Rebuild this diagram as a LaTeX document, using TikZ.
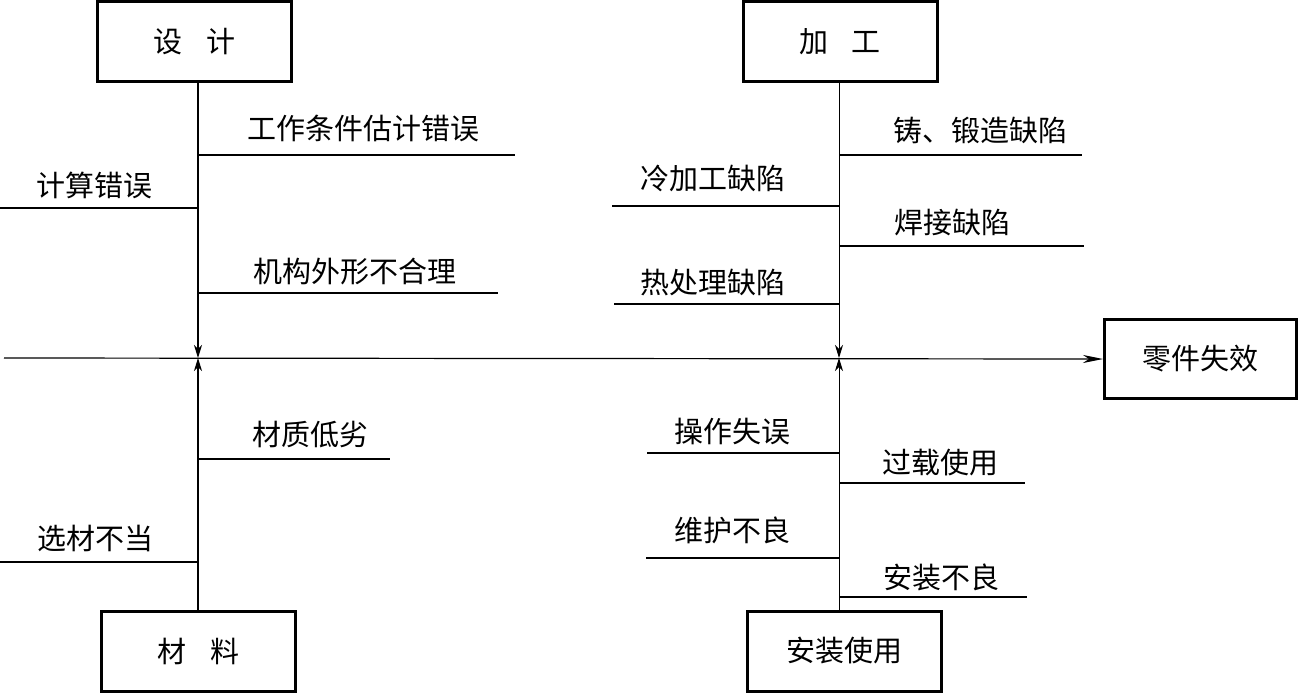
\documentclass[tikz,border=0pt]{standalone}
\usepackage{fontspec}
\newfontfamily\cjk{Noto Sans CJK SC}
\usetikzlibrary{arrows.meta, positioning}

\begin{document}
\begin{tikzpicture}[x=1pt,y=-1pt,>={Stealth[length=13pt,width=8pt,inset=4pt]},
  font=\cjk\fontsize{29}{32}\selectfont,
  box/.style={draw,line width=3pt,minimum width=194pt,minimum height=80pt,inner sep=0pt},
  spine/.style={line width=1.6pt},
  thin spine/.style={line width=1pt},
  branch/.style={line width=1.5pt},
  cause/.style={inner sep=0pt}]
\useasboundingbox (0,0) rectangle (1300,694);

% define the boxes
  \node[box]  (design)  at (194.5,41.5) {设\hspace{0.8em}计};
  \node[box]  (machining)  at (840,41.5) {加\hspace{0.8em}工};
  \node[box]  (material)  at (198.5,651) {材\hspace{0.8em}料};
  \node[box]  (usage)  at (844.5,651) {安装使用};
  \node[box, minimum width=192pt, minimum height=79pt]  (failure)  at (1200.5,359) {零件失效};

% define the junctions on the main line
  \coordinate (start) at (4,358);
  \coordinate (dj) at (198,358);
  \coordinate (mj) at (839,358);

% main line and spines
  \draw[line width=1.2pt,-{Stealth[length=20pt,width=8pt,inset=6pt]}] (start) -- (failure.west);
  \draw[spine,->] (dj |- design.south) -- (dj);
  \draw[spine,->] (dj |- material.north) -- (dj);
  \draw[thin spine,->] (mj |- machining.south) -- (mj);
  \draw[thin spine,->] (mj |- usage.north) -- (mj);

% design causes
  \coordinate (d1) at (515,155);
  \coordinate (d2) at (0,208);
  \coordinate (d3) at (498,293);
  \draw[branch] (dj |- d1) -- (d1);
  \draw[branch] (dj |- d2) -- (d2);
  \draw[branch] (dj |- d3) -- (d3);
  \node[cause] (t1) at (363,128) {工作条件估计错误};
  \node[cause] (t2) at (94,185) {计算错误};
  \node[cause] (t3) at (355,272) {机构外形不合理};

% material causes
  \coordinate (m1) at (390,459);
  \coordinate (m2) at (0,562);
  \draw[branch] (dj |- m1) -- (m1);
  \draw[branch] (dj |- m2) -- (m2);
  \node[cause] (t4) at (310,435) {材质低劣};
  \node[cause] (t5) at (95,538) {选材不当};

% machining causes
  \coordinate (p1) at (1082,155);
  \coordinate (p2) at (612,206);
  \coordinate (p3) at (1084,246);
  \coordinate (p4) at (614,304);
  \draw[branch] (mj |- p1) -- (p1);
  \draw[branch] (mj |- p2) -- (p2);
  \draw[branch] (mj |- p3) -- (p3);
  \draw[branch] (mj |- p4) -- (p4);
  \node[cause] (t6) at (980,130) {铸、锻造缺陷};
  \node[cause] (t7) at (713,178) {冷加工缺陷};
  \node[cause] (t8) at (952,223) {焊接缺陷};
  \node[cause] (t9) at (713,283) {热处理缺陷};

% usage causes
  \coordinate (u1) at (647,453);
  \coordinate (u2) at (1025,483);
  \coordinate (u3) at (646,558);
  \coordinate (u4) at (1027,597);
  \draw[branch] (mj |- u1) -- (u1);
  \draw[branch] (mj |- u2) -- (u2);
  \draw[branch] (mj |- u3) -- (u3);
  \draw[branch] (mj |- u4) -- (u4);
  \node[cause] (t10) at (732,432) {操作失误};
  \node[cause] (t11) at (940,463) {过载使用};
  \node[cause] (t12) at (732,530) {维护不良};
  \node[cause] (t13) at (941,577) {安装不良};

\end{tikzpicture}
\end{document}
